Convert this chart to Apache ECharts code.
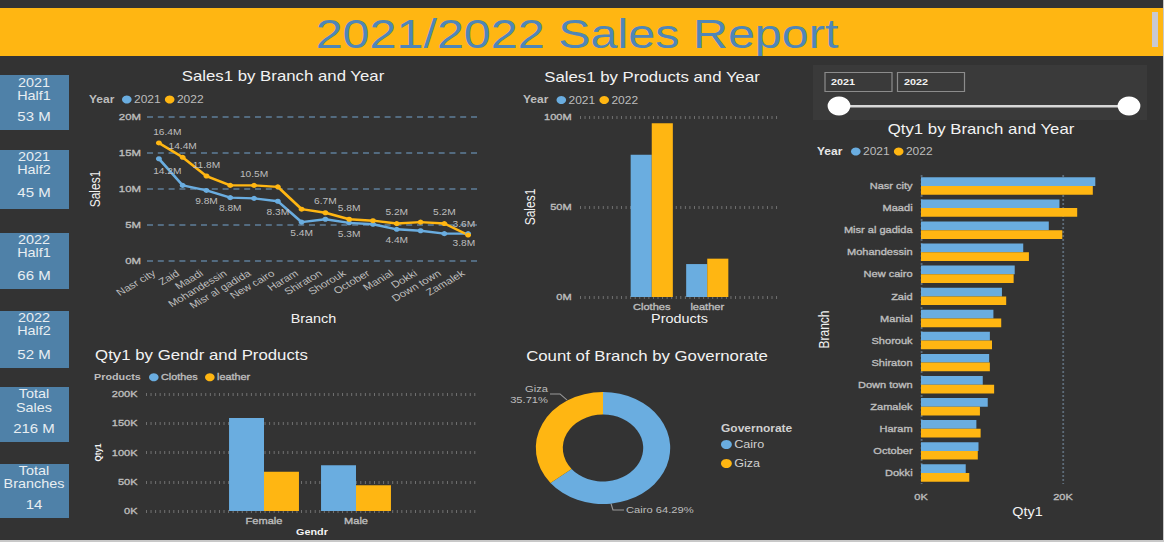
<!DOCTYPE html>
<html><head><meta charset="utf-8">
<script src="https://cdn.jsdelivr.net/npm/echarts@6/dist/echarts.min.js"></script>
<style>
html,body{margin:0;padding:0;background:#333;overflow:hidden}
#c{width:970px;height:542px;transform:scaleX(1.2);transform-origin:0 0}
</style></head><body><div id="c"></div>
<script>
// ---------- data ----------
const reportTitle = '2021/2022 Sales Report';
const years = ['2021', '2022'];
const branchesBySales = ['Nasr city','Zaid','Maadi','Mohandessin','Misr al gadida','New cairo','Haram','Shiraton','Shorouk','October','Manial','Dokki','Down town','Zamalek'];
const sales2021 = [14.2,10.5,9.8,8.8,8.7,8.3,5.4,5.8,5.3,5.1,4.4,4.2,3.8,3.8];
const sales2022 = [16.4,14.4,11.8,10.5,10.5,10.3,7.2,6.7,5.8,5.6,5.2,5.4,5.2,3.6];
const labelled2021 = [0,2,3,5,6,8,10,13];
const labelled2022 = [0,1,2,4,7,8,10,12,13];
const products = ['Clothes','leather'];
const productSales2021 = [79,18.3];
const productSales2022 = [96.5,21.3];
const genders = ['Female','Male'];
const qtyClothes = [159,78];
const qtyLeather = [67,44];
const governorates = ['Cairo','Giza'];
const branchCounts = [9,5];
const branchesByQty = ['Nasr city','Maadi','Misr al gadida','Mohandessin','New cairo','Zaid','Manial','Shorouk','Shiraton','Down town','Zamalek','Haram','October','Dokki'];
const qty2021 = [24.55,19.5,18,14.4,13.2,11.4,10.2,9.7,9.6,8.7,9.4,7.8,8.1,6.3];
const qty2022 = [24.2,22,19.9,15.2,13.05,12,11.3,10,9.7,10.3,8.3,8.4,8,6.8];
const kpiTitles = [['2021','Half1'],['2021','Half2'],['2022','Half1'],['2022','Half2'],['Total','Sales'],['Total','Branches']];
const kpiValues = ['53 M','45 M','66 M','52 M','216 M','14'];

// ---------- style ----------
const BLUE='#6aade0', YEL='#ffb612', TXT='#bdbdbd', WHITE='#f2f2f2';
const FONT='Liberation Sans, Arial, sans-serif';
const X = px => px/1.2;   // the whole picture is stretched horizontally by 1.2

function txt(x,y,text,size,fill,opt={}){
  return {type:'text',x:X(x),y:y,z:10,silent:true,style:{text,fill,font:(opt.bold?'bold ':'')+size+'px '+FONT,align:opt.align||'center',verticalAlign:'middle'}};
}
function rect(x,y,w,h,fill){
  return {type:'rect',z:1,silent:true,shape:{x:X(x),y,width:X(w),height:h},style:{fill}};
}
const kpiBoxes=[[75,130,82.5,95.5,117],[150,209,157,170,193],[233,289,239.5,252.5,276],[311,368,317.5,331,355],[387,442,394,408,429],[464,518,471,484,505]];

const graphics=[
  rect(0,8,1164,48,YEL),
  rect(1152,12,6,35,'#c9c9d2'),
  rect(0,540,1164,2,'#c8c8c8'),
  rect(1163,0,1,542,'#c8c8c8'),
  txt(577,34,reportTitle,40.4,'#4f86b8'),
  txt(283,76,'Sales1 by Branch and Year',14,WHITE),
  txt(652,77,'Sales1 by Products and Year',14,WHITE),
  txt(981,129,'Qty1 by Branch and Year',14,WHITE),
  txt(201.5,355,'Qty1 by Gendr and Products',14,WHITE),
  txt(647,356,'Count of Branch by Governorate',14,WHITE),
  txt(89,99,'Year',10,TXT,{bold:true,align:'left'}),
  txt(523,99.5,'Year',10,TXT,{bold:true,align:'left'}),
  txt(817,151,'Year',10,'#e6e6e6',{bold:true,align:'left'}),
  txt(94,377,'Products',9,TXT,{bold:true,align:'left'}),
  txt(721,428,'Governorate',10,'#d0d0d0',{bold:true,align:'left'}),
  // range slicer
  rect(813,65,334,55,'#3a3a3a'),
  {type:'rect',z:2,silent:true,shape:{x:X(825),y:72.5,width:X(67),height:19},style:{fill:'none',stroke:'#8c8c8c',lineWidth:1}},
  {type:'rect',z:2,silent:true,shape:{x:X(897.5),y:72.5,width:X(67),height:19},style:{fill:'none',stroke:'#8c8c8c',lineWidth:1}},
  txt(831,82,years[0],9,'#f2f2f2',{bold:true,align:'left'}),
  txt(904,82,years[1],9,'#f2f2f2',{bold:true,align:'left'}),
  rect(839,105,290,2.5,'#d8d8d8'),
  {type:'circle',z:3,silent:true,shape:{cx:X(839),cy:106,r:9.5},style:{fill:'#fff'}},
  {type:'circle',z:3,silent:true,shape:{cx:X(1129),cy:106,r:9.5},style:{fill:'#fff'}},
];
kpiBoxes.forEach((b,i)=>{
  graphics.push(rect(0,b[0],69,b[1]-b[0],'#4f81a8'));
  graphics.push(txt(34,b[2],kpiTitles[i][0],12,'#e8eef2'));
  graphics.push(txt(34,b[3],kpiTitles[i][1],12,'#e8eef2'));
  graphics.push(txt(34,b[4],kpiValues[i],12.5,'#e8eef2'));
});

function legend(left,top,data,extra={}){
  return Object.assign({left:X(left),top,data,selectedMode:false,icon:'circle',itemWidth:8,itemHeight:8,itemGap:3.5,padding:0,
    textStyle:{color:TXT,fontSize:10,fontFamily:FONT,padding:[0,0,0,-3]}},extra);
}
const mFmt=v=>(v)+'M', kFmt=v=>(v)+'K';
const dotted={show:true,lineStyle:{type:[0.8,3],width:3,color:'#737373'}};
// the reference's small labels read as semi-bold: regular face with a hairline outline
const bLabel={color:TXT,fontSize:9.2,fontFamily:FONT,textBorderColor:TXT,textBorderWidth:0.35};
const nameSt={color:WHITE,fontSize:12,fontFamily:FONT};
const noAxis={axisLine:{show:false},axisTick:{show:false}};

function lineSeries(name,values,color,shown,pos){
  return {name,type:'line',xAxisIndex:0,yAxisIndex:0,symbol:'circle',symbolSize:5,showSymbol:true,
    lineStyle:{width:2.4,color},itemStyle:{color},z:3,
    data:values.map((v,i)=>{
      const on=shown.includes(i);
      const off = i===0 ? [7,pos==='top'?0:2] : (i===values.length-1 ? [-3.5,pos==='top'?0:-1] : [0,0]);
      return {value:v,label:{show:on,position:pos,distance:4,offset:off,formatter:p=>p.value+'M',color:TXT,fontSize:8.5,fontFamily:FONT}};
    })};
}

const option={
  backgroundColor:'#333333',animation:false,textStyle:{fontFamily:FONT},
  graphic:graphics,
  legend:[
    legend(122,94.5,years),
    legend(556.5,95,years),
    legend(851,146.5,years),
    legend(149,372.5,products,{textStyle:Object.assign({},bLabel,{fontSize:9,padding:[0,0,0,-3]}),itemGap:6}),
    legend(721,439,governorates,{orient:'vertical',itemGap:8,itemWidth:9,itemHeight:9,textStyle:{color:'#d0d0d0',fontSize:10.5,fontFamily:FONT,padding:[0,0,0,-3]}}),
  ],
  grid:[
    {left:X(147),width:X(333),top:117,height:144},
    {left:X(580),width:X(199),top:117,height:180},
    {left:X(624),width:X(111),top:117,height:180},
    {left:X(146),width:X(332),top:394,height:117},
    {left:X(218),width:X(184),top:394,height:117},
    {left:X(921),width:X(213),top:175,height:309},
  ],
  xAxis:[
    {gridIndex:0,type:'category',data:branchesBySales,...noAxis,name:'Branch',nameLocation:'middle',nameGap:52,nameMoveOverlap:false,nameTextStyle:nameSt,
      axisLabel:{rotate:35,interval:0,color:TXT,fontSize:9.6,fontFamily:FONT,margin:8,padding:[0,5,0,0]}},
    {gridIndex:1,type:'category',data:products,...noAxis,axisLabel:{show:false},name:'Products',nameLocation:'middle',nameGap:16,nameTextStyle:nameSt},
    {gridIndex:2,type:'category',data:products,...noAxis,axisLabel:Object.assign({interval:0,margin:5},bLabel)},
    {gridIndex:3,type:'category',data:genders,...noAxis,axisLabel:{show:false},name:'Gendr',nameLocation:'middle',nameGap:16,nameTextStyle:{color:WHITE,fontSize:9,fontWeight:'bold',fontFamily:FONT}},
    {gridIndex:4,type:'category',data:genders,...noAxis,axisLabel:Object.assign({interval:0,margin:5},bLabel)},
    {gridIndex:5,type:'value',min:0,max:30,interval:20,...noAxis,name:'Qty1',nameLocation:'middle',nameGap:21,nameTextStyle:nameSt,
      axisLabel:Object.assign({formatter:kFmt,showMaxLabel:false,margin:8},bLabel),
      splitLine:{show:true,showMaxLine:false,lineStyle:{type:[2,2],width:1.5,color:'#5d6b78'}}},
  ],
  yAxis:[
    {gridIndex:0,type:'value',min:0,max:20,interval:5,...noAxis,name:'Sales1',nameLocation:'middle',nameGap:37,nameTextStyle:nameSt,
      axisLabel:Object.assign({},bLabel,{formatter:mFmt,fontSize:9.5,margin:5}),
      splitLine:{show:true,lineStyle:{type:[5,4],width:1.5,color:'#5f7f9a'}}},
    {gridIndex:1,type:'value',min:0,max:100,interval:50,...noAxis,name:'Sales1',nameLocation:'middle',nameGap:35.5,nameTextStyle:nameSt,
      axisLabel:Object.assign({formatter:mFmt,margin:7},bLabel),splitLine:dotted},
    {gridIndex:2,type:'value',min:0,max:100,show:false,splitLine:{show:false}},
    {gridIndex:3,type:'value',min:0,max:200,interval:50,...noAxis,name:'Qty1',nameLocation:'middle',nameGap:36,nameTextStyle:{color:WHITE,fontSize:8,fontWeight:'bold',fontFamily:FONT},
      axisLabel:Object.assign({formatter:kFmt,margin:7},bLabel),splitLine:dotted},
    {gridIndex:4,type:'value',min:0,max:200,show:false,splitLine:{show:false}},
    {gridIndex:5,type:'category',inverse:true,data:branchesByQty,...noAxis,name:'Branch',nameLocation:'middle',nameGap:75,nameTextStyle:nameSt,
      axisLabel:Object.assign({interval:0,margin:7},bLabel)},
  ],
  series:[
    lineSeries('2021',sales2021,BLUE,labelled2021,'bottom'),
    lineSeries('2022',sales2022,YEL,labelled2022,'top'),
    {name:'2021',type:'bar',xAxisIndex:2,yAxisIndex:2,data:productSales2021,itemStyle:{color:BLUE},barGap:0,barCategoryGap:'24%'},
    {name:'2022',type:'bar',xAxisIndex:2,yAxisIndex:2,data:productSales2022,itemStyle:{color:YEL}},
    {name:'Clothes',type:'bar',xAxisIndex:4,yAxisIndex:4,data:qtyClothes,itemStyle:{color:BLUE},barGap:0,barCategoryGap:'24%'},
    {name:'leather',type:'bar',xAxisIndex:4,yAxisIndex:4,data:qtyLeather,itemStyle:{color:YEL}},
    {name:'2021',type:'bar',xAxisIndex:5,yAxisIndex:5,data:qty2021,itemStyle:{color:BLUE},barGap:0,barCategoryGap:'21%'},
    {name:'2022',type:'bar',xAxisIndex:5,yAxisIndex:5,data:qty2022,itemStyle:{color:YEL}},
    {type:'pie',center:[X(603),448],radius:[33.5,56],startAngle:90,clockwise:true,
      data:governorates.map((n,i)=>({name:n,value:branchCounts[i],itemStyle:{color:[BLUE,YEL][i]}})),
      label:{show:true,color:TXT,fontSize:9.3,fontFamily:FONT,lineHeight:11,
        formatter:p=>p.dataIndex===0?p.name+' '+p.percent.toFixed(2)+'%':p.name+'\n'+p.percent.toFixed(2)+'%'},
      labelLine:{show:true,lineStyle:{color:'#9a9a9a',width:1}},
      labelLayout:p=>p.dataIndex===0
        ?{x:X(626),y:510,align:'left',verticalAlign:'middle',labelLinePoints:[[X(611),503.5],[X(613),510],[X(624),510]]}
        :{x:X(548),y:394,align:'right',verticalAlign:'middle',labelLinePoints:[[X(567),400],[X(560),394],[X(550),394]]},
    },
  ]
};
const chart=echarts.init(document.getElementById('c'),null,{renderer:'svg',width:970,height:542});
chart.setOption(option);
</script></body></html>
